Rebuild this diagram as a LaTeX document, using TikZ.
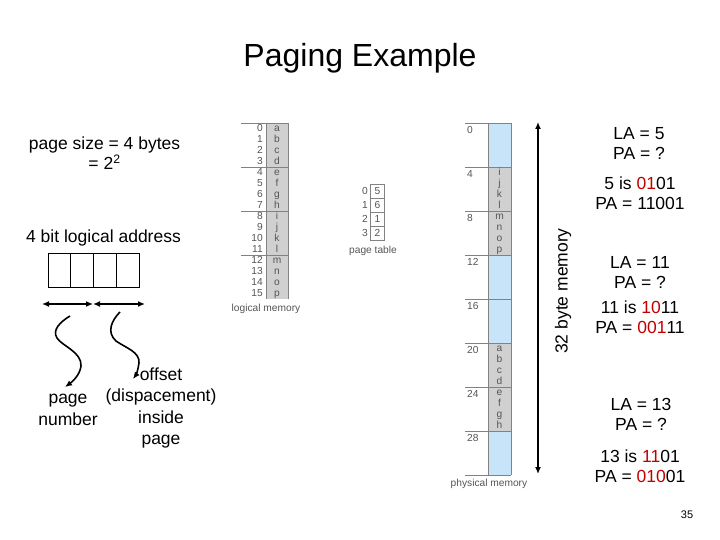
\documentclass[tikz,border=0pt]{standalone}
\usepackage{fontspec}
\setmainfont{Liberation Sans}
\usetikzlibrary{arrows.meta,positioning}
\definecolor{pgred}{RGB}{192,0,0}
\definecolor{pggray}{RGB}{208,208,208}
\definecolor{pgblue}{RGB}{200,228,248}
\definecolor{pgline}{RGB}{130,130,130}
\definecolor{pgtext}{RGB}{85,85,85}

\begin{document}
\begin{tikzpicture}[x=1pt, y=-1pt,
  big/.style={font=\fontsize{17.5}{20}\selectfont, align=center, inner sep=0pt},
  small/.style={font=\fontsize{10.2}{11}\selectfont, text=pgtext, inner sep=0pt,
  text height=7.2pt, text depth=1.8pt},
  cell/.style={draw, line width=1pt, minimum width=22.75pt, minimum height=34pt,
  inner sep=0pt, outer sep=0pt},
  rule/.style={draw=pgline, line width=0.6pt},
  arrow/.style={-{Latex[length=7pt,width=6pt]}, line width=1.6pt},
  twoway/.style={{Latex[length=7pt,width=6pt]}-{Latex[length=7pt,width=6pt]}, line width=1.8pt}]
\path[use as bounding box] (0,0) rectangle (720,540);
\node[font=\fontsize{32}{36}\selectfont] (title) at (360,58) {Paging Example};

% left side: address bits
\node[big] (pagesize) at (104.5,153) {page size = 4 bytes\\= 2\textsuperscript{2}};
\node[big] (addrlabel) at (103.5,238) {4 bit logical address};
\foreach \k in {0,...,3}
  \node[cell] (bit\k) at (59.4+22.75*\k,270) {};
\coordinate (pn0) at (42,304);
\coordinate (pn1) at (93,304);
\coordinate (pn2) at (145,304);
\draw[twoway] (pn0) -- (pn1);
\draw[twoway] (pn1) -- (pn2);
\node[big, font=\fontsize{17.5}{21.5}\selectfont] (pagenum) at (68,410) {page\\number};
\node[big, font=\fontsize{17.5}{21.5}\selectfont] (offset) at (161,408)
  {offset\\(dispacement)\\inside\\page};
\coordinate (sqa) at (70,316);
\coordinate (sqb) at (65,387);
\coordinate (sqc) at (120,312);
\coordinate (sqd) at (133,379);
\draw[arrow] (sqa) .. controls (60,322) and (52,330) .. (57,338)
  .. controls (62,346) and (82,352) .. (81,366)
  .. controls (80,375) and (72,382) .. (sqb);
\draw[arrow] (sqc) .. controls (112,320) and (106,332) .. (116,341)
  .. controls (126,348) and (140,352) .. (139,363)
  .. controls (138,370) and (136,375) .. (sqd);

% logical memory
\fill[pggray] (266,123) rectangle (288,299);
\draw[rule] (266,123) -- (266,299);
\draw[rule] (288,123) -- (288,299);
\foreach \i in {0,...,3}
  \draw[rule] (241,123+44*\i) -- (288,123+44*\i);
\foreach \c [count=\i from 0] in {a,...,p} {
  \node[small, anchor=east] (lnum\i) at (263,128.5+11*\i) {\i};
  \node[small] (lchar\i) at (277,128.5+11*\i) {\c};
}
\node[small] (logmem) at (266,309) {logical memory};

% page table
\draw[rule] (370.5,184.5) rectangle (384.5,240.5);
\foreach \i in {1,2,3}
  \draw[rule] (370.5,184.5+14*\i) -- (384.5,184.5+14*\i);
\foreach \f [count=\i from 0] in {5,6,1,2} {
  \node[small, anchor=east] (pnum\i) at (368,191.5+14*\i) {\i};
  \node[small] (pframe\i) at (377.5,191.5+14*\i) {\f};
}
\node[small] (pagetab) at (373,251) {page table};

% physical memory
\fill[pgblue] (488,123) rectangle (511,475);
\fill[pggray] (488,167) rectangle (511,255);
\fill[pggray] (488,343) rectangle (511,431);
\draw[rule] (488,123) -- (488,475);
\draw[rule] (511,123) -- (511,475);
\foreach \i in {0,...,8}
  \draw[rule] (465,123+44*\i) -- (511,123+44*\i);
\foreach \i in {0,...,7} {
  \pgfmathtruncatemacro{\addr}{4*\i}
  \node[small, anchor=west] (fnum\i) at (467,131+44*\i) {\addr};
}
\foreach \c [count=\i from 0] in {i,...,p}
  \node[small] (fa\i) at (499.5,172.5+11*\i) {\c};
\foreach \c [count=\i from 0] in {a,...,h}
  \node[small] (fb\i) at (499.5,348.5+11*\i) {\c};
\node[small] (physmem) at (489,484) {physical memory};

% memory size
\coordinate (memtop) at (538,122);
\coordinate (membot) at (538,474);
\draw[twoway, line width=1.4pt] (memtop) -- (membot);
\node[big, rotate=90] (memsize) at (563,291) {32 byte memory};

% right side: examples
\node[big] (la5) at (639,143) {LA = 5\\PA = ?};
\node[big] (pa5) at (640,193) {5 is \textcolor{pgred}{01}01\\PA = 11001};
\node[big] (la11) at (640,272) {LA = 11\\PA = ?};
\node[big] (pa11) at (640,317.5) {11 is \textcolor{pgred}{10}11\\PA = \textcolor{pgred}{001}11};
\node[big] (la13) at (641,414) {LA = 13\\PA = ?};
\node[big] (pa13) at (640,466) {13 is \textcolor{pgred}{11}01\\PA = \textcolor{pgred}{010}01};
\node[font=\fontsize{11}{12}\selectfont] (slide) at (687,515) {35};
\end{tikzpicture}
\end{document}
